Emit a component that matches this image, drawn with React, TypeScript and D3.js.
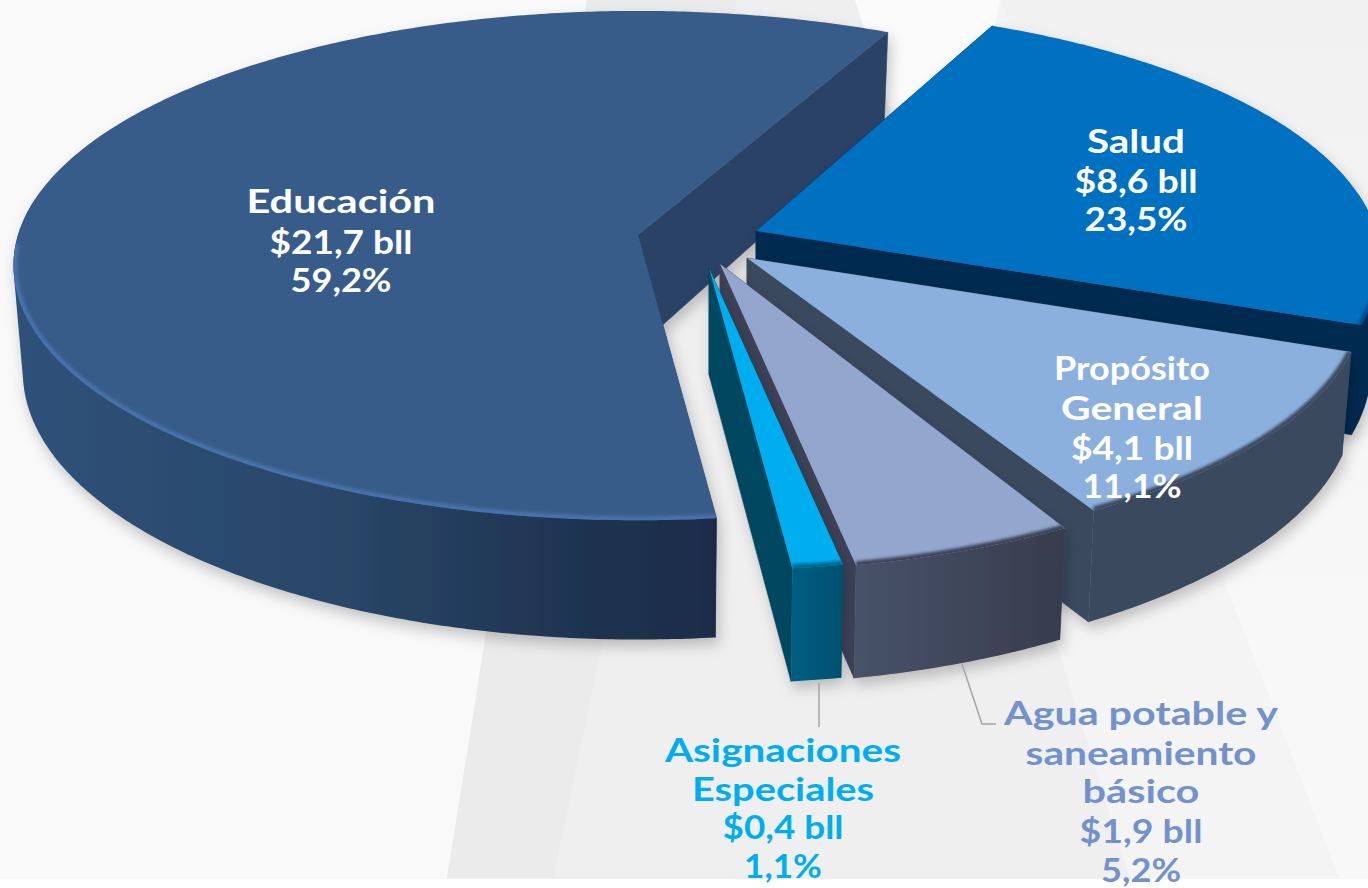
import React from "react";
import * as d3 from "d3";

// ---- data ----
const categories = ["Salud", "Propósito General", "Agua potable y saneamiento básico", "Asignaciones Especiales", "Educación"];
const shareValues = [23.5, 11.1, 5.2, 1.1, 59.2];
const amountLabels = ["$8,6 bll", "$4,1 bll", "$1,9 bll", "$0,4 bll", "$21,7 bll"];
const shareLabels = ["23,5%", "11,1%", "5,2%", "1,1%", "59,2%"];
const nameLines = [["Salud"], ["Propósito", "General"], ["Agua potable y", "saneamiento", "básico"], ["Asignaciones", "Especiales"], ["Educación"]];

// ---- styling / layout ----
const W = 1368, H = 888;
const R = 620, KR = 251, P = 0.12, DEPTH = 105, TIP_DEPTH = 112;
const START_DEG = 26.5;
const tips = [[756, 231], [747, 258], [720, 264], [709, 268], [638, 235]];
const scales = [1, 0.98, 0.98, 1.06, 1];
const perspectives = [0.12, 0.17, 0.2, 0.12, 0.12];
const depthScales = [1, 0.95, 0.95, 0.95, 1];
const startTweakDeg = [-1.5, 0, 1.2, 0, 0];
const topColors = ["#006FC0", "#8CB0DE", "#93A6CE", "#00AEEF", "#385C89"];
const sideColors = ["#002B4F", "#3A4A5F", "#3D4358", "#00465F", "#2A4365"];
const rimColors = ["#004E8A", "#3A4A5F", "#3D4358", "#00668F", "#4672AC"];
const wallStops: [string, string][][] = [
  [["0", "#002B4F"], ["1", "#002B4F"]],
  [["0", "#3A4A5F"], ["1", "#3A4A5F"]],
  [["0", "#485368"], ["1", "#373B4D"]],
  [["0", "#005D80"], ["1", "#00506F"]],
  [["0", "#2F5179"], ["0.45", "#2A4769"], ["0.75", "#203654"], ["1", "#1B2C47"]],
];
const wallRange = [[756, 1368], [1060, 1368], [850, 1068], [795, 845], [20, 714]];
const textColors = ["#FFFFFF", "#FFFFFF", "#7392CB", "#00AEEF", "#FFFFFF"];
const labelCenters = [1136, 1132, 1141, 783, 341];
const labelBaselines = [
  [153, 193, 231],
  [380, 420, 460, 498],
  [725, 765, 803, 843, 882],
  [762, 801, 839, 878],
  [213, 254, 292],
];
const labelWidths = [
  [98, 123, 103],
  [156, 142, 122, 99],
  [274, 231, 117, 123, 80],
  [236, 182, 121, 78],
  [189, 143, 101],
];
const drawOrder = [4, 0, 1, 2, 3];

const arcs = d3
  .pie<number>()
  .sort(null)
  .startAngle((START_DEG * Math.PI) / 180)
  .endAngle((START_DEG * Math.PI) / 180 + 2 * Math.PI)(shareValues);

function project(i: number, a: number, bottom = false): [number, number] {
  const [tx, ty] = tips[i];
  const s = scales[i];
  const z = Math.cos(a);
  const f = 1 / (1 + perspectives[i] * z);
  const fGlobal = 1 / (1 + P * z);
  const narrowing = bottom ? 0.985 : 1;
  return [
    tx + s * R * Math.sin(a) * f * narrowing,
    ty - s * KR * z * f + (bottom ? DEPTH * fGlobal * depthScales[i] : 0),
  ];
}

function angles(a0: number, a1: number): number[] {
  const n = Math.max(4, Math.ceil(Math.abs(a1 - a0) / 0.01));
  return d3.range(n + 1).map((k) => a0 + ((a1 - a0) * k) / n);
}

const line = d3.line<[number, number]>();

function sliceRange(i: number): [number, number] {
  return [arcs[i].startAngle + (startTweakDeg[i] * Math.PI) / 180, arcs[i].endAngle];
}

function topPath(i: number): string {
  const [a0, a1] = sliceRange(i);
  return line([[tips[i][0], tips[i][1]] as [number, number], ...angles(a0, a1).map((a) => project(i, a))]) + "Z";
}

function SliceShape({ i }: { i: number }) {
  const [a0, a1] = sliceRange(i);
  const [tx, ty] = tips[i];
  const tipLow: [number, number] = [tx, ty + TIP_DEPTH * depthScales[i]];
  const sideA = [[tx, ty], project(i, a0), project(i, a0, true), tipLow] as [number, number][];
  const sideB = [[tx, ty], project(i, a1), project(i, a1, true), tipLow] as [number, number][];
  // only the part of the outer wall that faces the viewer is drawn; its hull
  // keeps the silhouette straight between the upper and the lower rim
  const front = angles(a0, a1).filter((a) => Math.cos(a) < 0.15);
  const wallPoints = [...front.map((a) => project(i, a)), ...front.map((a) => project(i, a, true))];
  const wall = d3.polygonHull(wallPoints) ?? wallPoints;
  const bevel = front.filter((a) => Math.cos(a) < -0.03).map((a) => project(i, a));
  return (
    <g filter="url(#dropShadow)">
      <path d={line(sideA) + "Z"} fill={sideColors[i]} stroke={sideColors[i]} strokeWidth={0.6} />
      <path d={line(sideB) + "Z"} fill={sideColors[i]} stroke={sideColors[i]} strokeWidth={0.6} />
      <path d={line(wall) + "Z"} fill={`url(#wall${i})`} />
      <path d={topPath(i)} fill={topColors[i]} />
      <g clipPath={`url(#topClip${i})`}>
        <path d={line(bevel) ?? ""} fill="none" stroke={rimColors[i]} strokeWidth={8} filter="url(#soft)" />
      </g>
    </g>
  );
}

export default function App() {
  return (
    <svg width={W} height={H} viewBox={`0 0 ${W} ${H}`} style={{ position: "absolute", left: 0, top: 0, display: "block" }}>
      <defs>
        <filter id="dropShadow" filterUnits="userSpaceOnUse" x={-50} y={-50} width={W + 100} height={H + 100}>
          <feDropShadow dx={3} dy={7} stdDeviation={7} floodColor="#000000" floodOpacity={0.22} />
        </filter>
        <filter id="soft" filterUnits="userSpaceOnUse" x={-50} y={-50} width={W + 100} height={H + 100}>
          <feGaussianBlur stdDeviation={1.4} />
        </filter>
        <linearGradient id="rightBack" gradientUnits="userSpaceOnUse" x1={0} x2={0} y1={0} y2={620}>
          <stop offset="0" stopColor="#F1F1F1" />
          <stop offset="1" stopColor="#F8F8F8" />
        </linearGradient>
        {arcs.map((_, i) => (
          <linearGradient key={i} id={`wall${i}`} gradientUnits="userSpaceOnUse" x1={wallRange[i][0]} x2={wallRange[i][1]} y1={0} y2={0}>
            {wallStops[i].map(([o, c]) => (
              <stop key={o} offset={o} stopColor={c} />
            ))}
          </linearGradient>
        ))}
        {arcs.map((_, i) => (
          <clipPath key={i} id={`topClip${i}`}>
            <path d={topPath(i)} />
          </clipPath>
        ))}
      </defs>

      {/* page backdrop */}
      <rect x={0} y={0} width={W} height={H} fill="#FFFFFF" />
      <rect x={0} y={0} width={W} height={879} fill="#F9F9F9" />
      <polygon points="587,0 855,0 1200,879 447,879" fill="#EFEFEF" />
      <polygon points="587,0 737,0 553,879 447,879" fill="#EBEBEC" />
      <polygon points="855,0 1000,0 1340,879 1130,879" fill="#F4F4F4" />
      <polygon points="1000,0 1368,0 1368,879 1340,879" fill="url(#rightBack)" />
      <polygon points="855,0 1000,0 960,200 920,200" fill="#FBFBFB" />

      {drawOrder.map((i) => (
        <SliceShape key={categories[i]} i={i} />
      ))}

      {/* leader lines */}
      <path d={d3.line()([[819, 683], [819, 727]]) ?? ""} fill="none" stroke="#A6A6A6" strokeWidth={1.5} />
      <path d={d3.line()([[962, 664], [982, 724], [996, 724]]) ?? ""} fill="none" stroke="#A6A6A6" strokeWidth={1.5} />

      {/* labels */}
      {categories.map((c, i) => {
        const lines = [...nameLines[i], amountLabels[i], shareLabels[i]];
        return (
          <g key={c} fill={textColors[i]} fontFamily="Lato, 'Open Sans', sans-serif" fontWeight={700} fontSize={33} textAnchor="middle">
            {lines.map((t, k) => (
              <text key={k} x={labelCenters[i]} y={labelBaselines[i][k]} textLength={labelWidths[i][k]} lengthAdjust="spacingAndGlyphs">
                {t}
              </text>
            ))}
          </g>
        );
      })}
    </svg>
  );
}
